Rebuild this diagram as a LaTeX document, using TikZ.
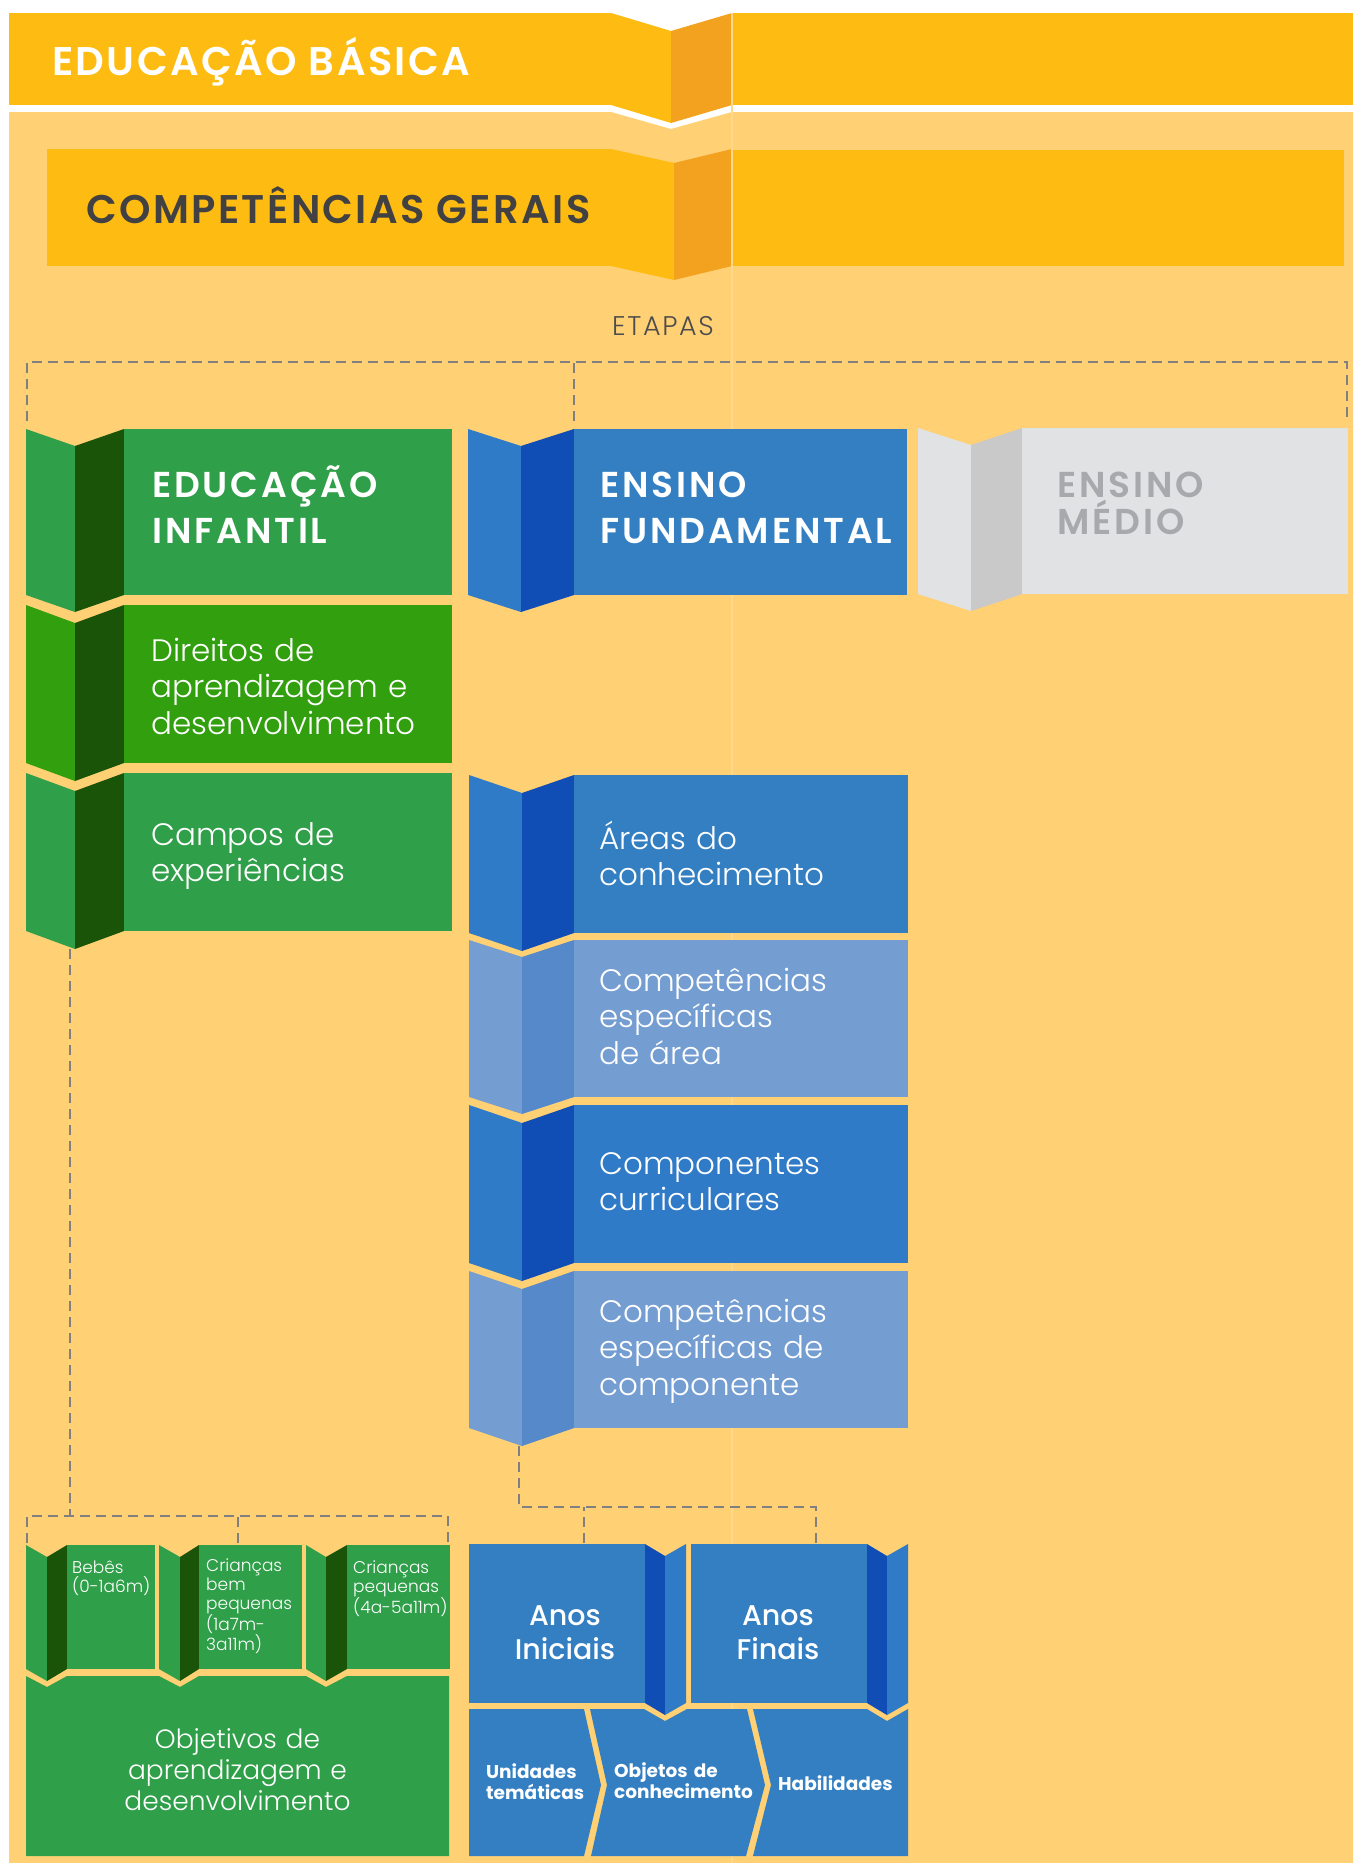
\documentclass[tikz,border=0pt]{standalone}
\usepackage{fontspec}
\setmainfont{Poppins}
\IfFontExistsTF{Poppins Light}{\newfontfamily\lightf{Poppins Light}}{\newfontfamily\lightf{Poppins}}
\IfFontExistsTF{Poppins Light}{\newfontfamily\etapf{Poppins Light}[LetterSpace=6]}{\newfontfamily\etapf{Poppins}[LetterSpace=6]}
\IfFontExistsTF{Poppins Medium}{\newfontfamily\medf{Poppins Medium}}{\newfontfamily\medf{Poppins}}
\IfFontExistsTF{Poppins SemiBold}{\newfontfamily\titlef{Poppins SemiBold}[LetterSpace=6]}{\newfontfamily\titlef{Poppins Bold}[LetterSpace=6]}
\IfFontExistsTF{Poppins SemiBold}{\newfontfamily\stagef{Poppins SemiBold}[LetterSpace=8]}{\newfontfamily\stagef{Poppins Bold}[LetterSpace=8]}
\definecolor{bgorange}{RGB}{255,208,116}
\definecolor{banner}{RGB}{254,188,18}
\definecolor{bannerdark}{RGB}{243,162,32}
\definecolor{gmain}{RGB}{48,159,73}
\definecolor{gbright}{RGB}{49,159,14}
\definecolor{gdark}{RGB}{26,84,9}
\definecolor{bmain}{RGB}{51,127,194}
\definecolor{bfold}{RGB}{47,123,200}
\definecolor{bdark}{RGB}{16,77,180}
\definecolor{lbmain}{RGB}{116,157,210}
\definecolor{lbdark}{RGB}{85,137,202}
\definecolor{grmain}{RGB}{225,226,227}
\definecolor{grdark}{RGB}{201,201,201}
\definecolor{grtext}{RGB}{167,169,172}
\definecolor{dashgray}{RGB}{128,128,128}
\definecolor{titlegray}{RGB}{65,64,66}
\definecolor{etapagray}{RGB}{77,77,77}
\definecolor{seamc}{RGB}{255,216,140}
% folded panel pair: #1 lx, #2 crease x, #3 rx, #4 top, #5 bottom, #6 depth, #7 left colour, #8 right colour
\newcommand\lfold[8]{%
  \fill[#7] (#1,#4) -- (#2,{#4+#6}) -- (#2,{#5+#6}) -- (#1,#5) -- cycle;
  \fill[#8] (#2,{#4+#6}) -- (#3,#4) -- (#3,#5) -- (#2,{#5+#6}) -- cycle;}
\begin{document}
\begin{tikzpicture}[x=1pt,y=-1pt,
  dashc/.style={draw=dashgray, line width=2.6pt, dash pattern=on 10pt off 6pt},
  tl/.style={inner sep=0pt, anchor=base west, align=left, text width=#1},
  tl/.default=330pt,
  tc/.style={inner sep=0pt, anchor=base, align=center, text width=#1},
  bigtitle/.style={font=\titlef\fontsize{40}{48}\selectfont},
  stagetitle/.style={font=\stagef\fontsize{36}{46}\selectfont, text=white},
  body/.style={font=\lightf\fontsize{31}{36.8}\selectfont, text=white},
  small/.style={font=\lightf\fontsize{17}{19.3}\selectfont, text=white},
  obj/.style={font=\lightf\fontsize{26.5}{31}\selectfont, text=white},
  anos/.style={font=\medf\fontsize{28.5}{34}\selectfont, text=white},
  bot/.style={font=\bfseries\fontsize{18.5}{21}\selectfont, text=white},
]
\useasboundingbox (0,0) rectangle (1353,1863);
\fill[white] (0,0) rectangle (1353,1863);
% light orange background
\fill[bgorange] (9,112) -- (611,112) -- (671,129) -- (732,112) -- (1353,112) -- (1353,1863) -- (9,1863) -- cycle;

% EDUCACAO BASICA banner
\fill[banner] (9,13) rectangle (611,105);
\lfold{611}{671}{732}{13}{105}{18}{banner}{bannerdark}
\fill[banner] (732,13) rectangle (1353,105);
% COMPETENCIAS GERAIS banner
\fill[banner] (47,149) rectangle (611,266);
\lfold{611}{674}{732}{149}{266}{14}{banner}{bannerdark}
\fill[banner] (732,150) rectangle (1344,266);
\draw[seamc, line width=1.2pt] (732,13) -- (732,1863);

\node[bigtitle, text=white, inner sep=0pt, anchor=base west] (eb) at (52,75) {EDUCAÇÃO BÁSICA};
\node[bigtitle, text=titlegray, inner sep=0pt, anchor=base west] (cg) at (86,223) {COMPETÊNCIAS GERAIS};
\node[font=\etapf\fontsize{27}{32}\selectfont, text=etapagray, inner sep=0pt, anchor=base] (etapas) at (663,335) {ETAPAS};

% ---- stages
\lfold{26}{75}{124}{429}{595}{17}{gmain}{gdark}
\fill[gmain] (124,429) rectangle (452,595);
\node[tl, stagetitle] (ei) at (152,497) {EDUCAÇÃO\\INFANTIL};

\lfold{468}{521}{574}{429}{595}{17}{bfold}{bdark}
\fill[bmain] (574,429) rectangle (907,595);
\node[tl, stagetitle] (ef) at (600,497) {ENSINO\\FUNDAMENTAL};

\lfold{918}{971}{1022}{428}{594}{17}{grmain}{grdark}
\fill[grmain] (1022,428) rectangle (1348,594);
\node[tl, stagetitle, text=grtext, font=\stagef\fontsize{36}{37.6}\selectfont] (em) at (1057,497) {ENSINO\\MÉDIO};

% stage bracket
\coordinate (etbar) at (663,362);
\coordinate (ei-in) at (27,421);
\coordinate (ef-in) at (574,421);
\coordinate (em-in) at (1347,421);
\draw[dashc] (ei-in) -- (ei-in |- etbar) -- (em-in |- etbar) -- (em-in);
\draw[dashc] (ef-in) -- (ef-in |- etbar);

% ---- Educacao Infantil column
\lfold{26}{75}{124}{605}{763}{18}{gbright}{gdark}
\fill[gbright] (124,605) rectangle (452,763);
\node[tl, body] (dir) at (151,661) {Direitos de\\aprendizagem e\\desenvolvimento};

\lfold{26}{75}{124}{773}{931}{18}{gmain}{gdark}
\fill[gmain] (124,773) rectangle (452,931);
\node[tl, body] (cam) at (151,845) {Campos de\\experiências};

\lfold{26}{47}{67}{1545}{1669}{12}{gmain}{gdark}
\fill[gmain] (67,1545) rectangle (155,1669);
\node[tl=85pt, small] (b1) at (72,1573) {Bebês\\(0-1a6m)};

\lfold{159}{180}{199}{1545}{1669}{12}{gmain}{gdark}
\fill[gmain] (199,1545) rectangle (302,1669);
\node[tl=100pt, small] (b2) at (206,1571) {Crianças\\bem\\pequenas\\(1a7m-\\3a11m)};

\lfold{306}{326}{347}{1545}{1669}{12}{gmain}{gdark}
\fill[gmain] (347,1545) rectangle (450,1669);
\node[tl=100pt, small] (b3) at (353,1573) {Crianças\\pequenas\\(4a-5a11m)};

\fill[gmain] (26,1676) -- (47,1687) -- (67,1676) -- (159,1676) -- (180,1687) -- (199,1676)
  -- (306,1676) -- (326,1687) -- (347,1676) -- (449,1676) -- (449,1856) -- (26,1856) -- cycle;
\node[tc=420pt, obj] (obj) at (237.5,1748) {Objetivos de\\aprendizagem e\\desenvolvimento};

\coordinate (cam-out) at (70,949);
\coordinate (eibar) at (238,1516);
\coordinate (b1-in) at (27,1543);
\coordinate (b2-in) at (238,1543);
\coordinate (b3-in) at (448,1543);
\draw[dashc] (cam-out) -- (cam-out |- eibar);
\draw[dashc] (b1-in) -- (b1-in |- eibar) -- (b3-in |- eibar) -- (b3-in);
\draw[dashc] (b2-in) -- (b2-in |- eibar);

% ---- Ensino Fundamental column
\lfold{469}{522}{574}{775}{933}{18}{bfold}{bdark}
\fill[bmain] (574,775) rectangle (908,933);
\node[tl, body] (are) at (599,849) {Áreas do\\conhecimento};

\lfold{469}{522}{574}{940}{1097}{17}{lbmain}{lbdark}
\fill[lbmain] (574,940) rectangle (908,1097);
\node[tl, body] (cea) at (599,991) {Competências\\específicas\\de área};

\lfold{469}{522}{574}{1105}{1263}{18}{bfold}{bdark}
\fill[bfold] (574,1105) rectangle (908,1263);
\node[tl, body] (cc) at (599,1174) {Componentes\\curriculares};

\lfold{469}{522}{574}{1271}{1428}{18}{lbmain}{lbdark}
\fill[lbmain] (574,1271) rectangle (908,1428);
\node[tl, body] (cec) at (599,1322) {Competências\\específicas de\\componente};

\fill[bmain] (469,1544) rectangle (645,1703);
\lfold{645}{665}{686}{1544}{1703}{12}{bdark}{bfold}
\node[tc=170pt, anos] (ai) at (565,1625) {Anos\\Iniciais};

\fill[bmain] (691,1544) rectangle (867,1703);
\lfold{867}{887}{908}{1544}{1703}{12}{bdark}{bfold}
\node[tc=170pt, anos] (af) at (778,1625) {Anos\\Finais};

\coordinate (cec-out) at (519,1446);
\coordinate (efbar) at (700,1507);
\coordinate (ai-in) at (584,1543);
\coordinate (af-in) at (816,1543);
\draw[dashc] (cec-out) -- (cec-out |- efbar) -- (af-in |- efbar) -- (af-in);
\draw[dashc] (ai-in) -- (ai-in |- efbar);

\fill[bmain] (469,1709) -- (584,1709) -- (601,1785) -- (584,1856) -- (469,1856) -- cycle;
\fill[bmain] (590,1709) -- (644,1709) -- (665,1721) -- (687,1709) -- (747,1709) -- (765,1785)
  -- (746,1856) -- (591,1856) -- (607,1785) -- cycle;
\fill[bmain] (753,1709) -- (867,1709) -- (887,1721) -- (908,1709) -- (908,1856) -- (753,1856)
  -- (771,1785) -- cycle;
\node[tl=110pt, bot] (ut) at (486,1778) {Unidades\\temáticas};
\node[tl=150pt, bot] (oc) at (614,1777) {Objetos de\\conhecimento};
\node[tl=130pt, bot] (hab) at (778,1790) {Habilidades};
\end{tikzpicture}
\end{document}
